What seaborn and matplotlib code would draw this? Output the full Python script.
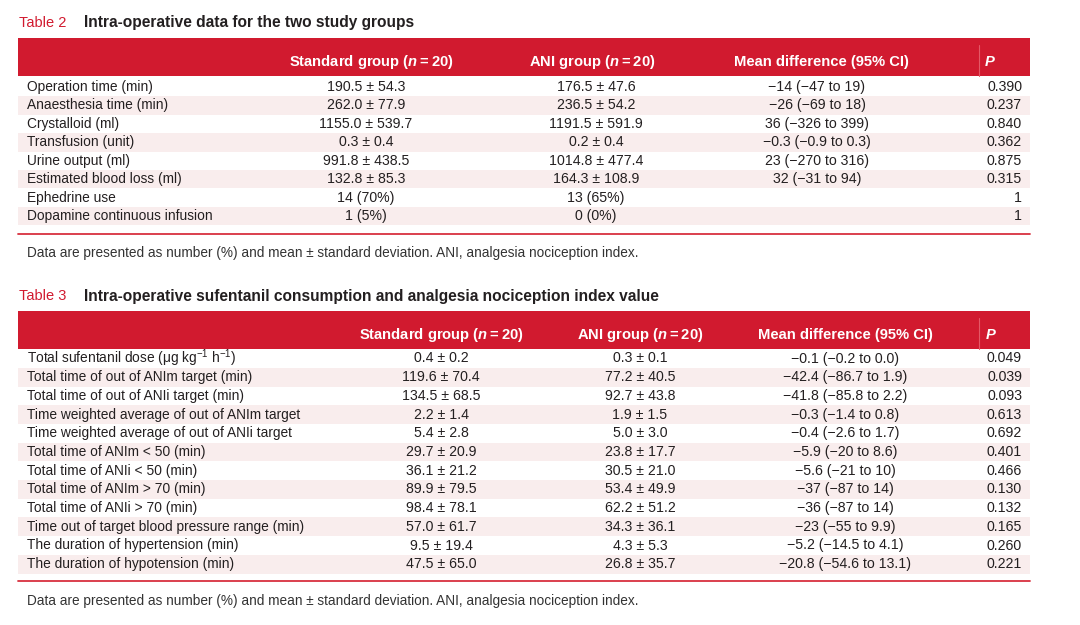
import matplotlib
matplotlib.use("Agg")
import matplotlib.pyplot as plt
from matplotlib.patches import Rectangle
import seaborn as sns

# ---------------- data ----------------
t2_title = "Intra-operative data for the two study groups"
t2_headers = ["Standard group ($\\mathit{n}$\u2009=\u200920)", "ANI group ($\\mathit{n}$\u2009=\u200920)",
              "Mean difference (95% CI)", "P"]
t2_labels = ["Operation time (min)", "Anaesthesia time (min)", "Crystalloid (ml)",
             "Transfusion (unit)", "Urine output (ml)", "Estimated blood loss (ml)",
             "Ephedrine use", "Dopamine continuous infusion"]
t2_standard = ["190.5 ± 54.3", "262.0 ± 77.9", "1155.0 ± 539.7", "0.3 ± 0.4",
               "991.8 ± 438.5", "132.8 ± 85.3", "14 (70%)", "1 (5%)"]
t2_ani = ["176.5 ± 47.6", "236.5 ± 54.2", "1191.5 ± 591.9", "0.2 ± 0.4",
          "1014.8 ± 477.4", "164.3 ± 108.9", "13 (65%)", "0 (0%)"]
t2_diff = ["−14 (−47 to 19)", "−26 (−69 to 18)", "36 (−326 to 399)", "−0.3 (−0.9 to 0.3)",
           "23 (−270 to 316)", "32 (−31 to 94)", "", ""]
t2_p = ["0.390", "0.237", "0.840", "0.362", "0.875", "0.315", "1", "1"]

t3_title = "Intra-operative sufentanil consumption and analgesia nociception index value"
t3_labels = ["Total sufentanil dose (μg kg$^{-1}$ h$^{-1}$)",
             "Total time of out of ANIm target (min)",
             "Total time of out of ANIi target (min)",
             "Time weighted average of out of ANIm target",
             "Time weighted average of out of ANIi target",
             "Total time of ANIm < 50 (min)",
             "Total time of ANIi < 50 (min)",
             "Total time of ANIm > 70 (min)",
             "Total time of ANIi > 70 (min)",
             "Time out of target blood pressure range (min)",
             "The duration of hypertension (min)",
             "The duration of hypotension (min)"]
t3_standard = ["0.4 ± 0.2", "119.6 ± 70.4", "134.5 ± 68.5", "2.2 ± 1.4", "5.4 ± 2.8",
               "29.7 ± 20.9", "36.1 ± 21.2", "89.9 ± 79.5", "98.4 ± 78.1",
               "57.0 ± 61.7", "9.5 ± 19.4", "47.5 ± 65.0"]
t3_ani = ["0.3 ± 0.1", "77.2 ± 40.5", "92.7 ± 43.8", "1.9 ± 1.5", "5.0 ± 3.0",
          "23.8 ± 17.7", "30.5 ± 21.0", "53.4 ± 49.9", "62.2 ± 51.2",
          "34.3 ± 36.1", "4.3 ± 5.3", "26.8 ± 35.7"]
t3_diff = ["−0.1 (−0.2 to 0.0)", "−42.4 (−86.7 to 1.9)", "−41.8 (−85.8 to 2.2)",
           "−0.3 (−1.4 to 0.8)", "−0.4 (−2.6 to 1.7)", "−5.9 (−20 to 8.6)",
           "−5.6 (−21 to 10)", "−37 (−87 to 14)", "−36 (−87 to 14)",
           "−23 (−55 to 9.9)", "−5.2 (−14.5 to 4.1)", "−20.8 (−54.6 to 13.1)"]
t3_p = ["0.049", "0.039", "0.093", "0.613", "0.692", "0.401", "0.466",
        "0.130", "0.132", "0.165", "0.260", "0.221"]

footnote = "Data are presented as number (%) and mean ± standard deviation. ANI, analgesia nociception index."

# ---------------- style ----------------
sns.set_theme(style="white")
plt.rcParams["font.family"] = ["Liberation Sans", "DejaVu Sans"]
plt.rcParams["mathtext.fontset"] = "custom"
plt.rcParams["mathtext.rm"] = "Liberation Sans"
plt.rcParams["mathtext.it"] = "Liberation Sans:italic:bold"
plt.rcParams["mathtext.bf"] = "Liberation Sans:bold"

RED = "#d11a2f"
PINK = "#f9eded"
TXT = "#231f20"
FS_LAB = 9.9
FS_VAL = 10.2
FS_HEAD = 10.6

fig = plt.figure(figsize=(10.8, 6.25), dpi=100)
ax = fig.add_axes([0, 0, 1, 1])
ax.set_xlim(0, 1080)
ax.set_ylim(625, 0)
ax.axis("off")

X0, X1 = 18, 1030


def draw_table(num, title, ty, htop, hbot, htext, row0, pitch, labels, std, ani, diff, pv,
               hcols, vcols, pcol_x, line_y, foot_y):
    ax.text(19, ty, f"Table {num}", color=RED, fontsize=10.5, va="center", ha="left")
    ax.text(84, ty, title, color=TXT, fontsize=11.2, fontweight="bold", va="center", ha="left")
    ax.add_patch(Rectangle((X0, htop), X1 - X0, hbot - htop, color=RED, lw=0, zorder=1))
    ax.plot([979, 979], [htop + 7, hbot], color="#e45866", lw=0.8, zorder=2)
    for h, cx in zip(t2_headers[:3], hcols):
        ax.text(cx, htext, h, color="white", fontsize=FS_HEAD, fontweight="bold",
                ha="center", va="center", zorder=3)
    ax.text(pcol_x, htext, "P", color="white", fontsize=FS_HEAD, fontweight="bold",
            fontstyle="italic", ha="left", va="center", zorder=3)
    for i, lab in enumerate(labels):
        y = row0 + i * pitch
        if i % 2 == 1:
            ax.add_patch(Rectangle((X0, y - pitch / 2), X1 - X0, pitch, color=PINK, lw=0, zorder=0))
        ax.text(27, y, lab, color=TXT, fontsize=FS_LAB, ha="left", va="center")
        ax.text(vcols[0], y, std[i], color=TXT, fontsize=FS_VAL, ha="center", va="center")
        ax.text(vcols[1], y, ani[i], color=TXT, fontsize=FS_VAL, ha="center", va="center")
        if diff[i]:
            ax.text(vcols[2], y, diff[i], color=TXT, fontsize=FS_VAL, ha="center", va="center")
        ax.text(1022, y, pv[i], color=TXT, fontsize=FS_VAL, ha="right", va="center")
    ax.plot([X0, X1], [line_y, line_y], color="#d8303f", lw=1.3)
    ax.text(27, foot_y, footnote, color="#333333", fontsize=9.8, ha="left", va="center")


draw_table(2, t2_title, 23, 38, 76, 62, 87, 18.45, t2_labels, t2_standard, t2_ani, t2_diff, t2_p,
           [371, 592, 821], [366, 596, 817], 985, 234, 253)
draw_table(3, t3_title, 296, 311, 349, 335, 358.5, 18.7, t3_labels, t3_standard, t3_ani, t3_diff, t3_p,
           [441, 640, 845], [441, 640, 845], 986, 580.5, 601)

fig.savefig("out.png", dpi=100, facecolor="white")
